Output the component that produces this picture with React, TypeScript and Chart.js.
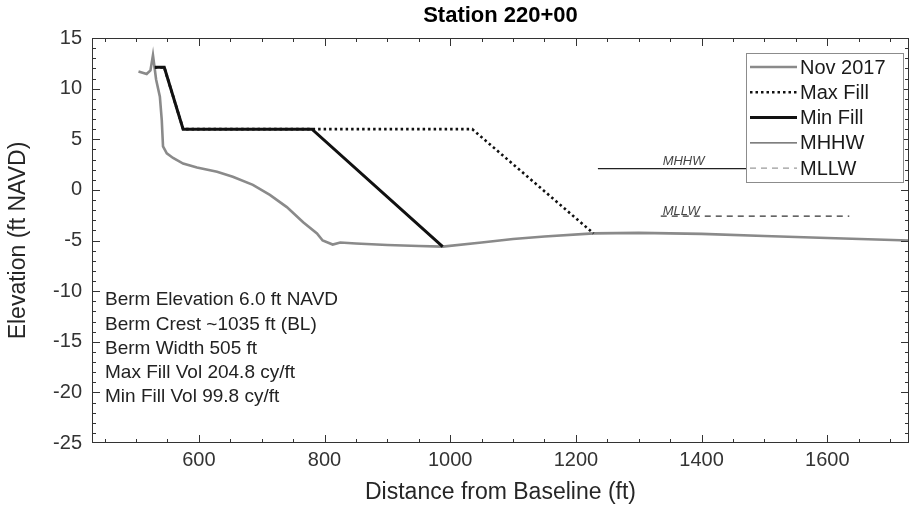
import React, { useEffect, useRef } from "react";
import { Chart, registerables } from "chart.js";

Chart.register(...registerables);

// ---- data ----
const titleText = "Station 220+00";
const xAxisTitle = "Distance from Baseline (ft)";
const yAxisTitle = "Elevation (ft NAVD)";
const seriesNames = ["Nov 2017", "Max Fill", "Min Fill", "MHHW", "MLLW"];

const novX = [504, 517, 523, 527, 532, 538, 541, 543, 549, 559, 575, 597, 629, 654, 686, 713, 740, 766, 788, 797, 813, 825, 850, 900, 950, 988, 1050, 1100, 1150, 1228, 1300, 1400, 1500, 1600, 1730];
const novY = [11.7, 11.45, 11.8, 13.3, 10.9, 9.2, 6.9, 4.3, 3.6, 3.15, 2.6, 2.2, 1.8, 1.3, 0.5, -0.5, -1.7, -3.2, -4.3, -5.0, -5.4, -5.2, -5.3, -5.45, -5.55, -5.6, -5.2, -4.85, -4.6, -4.3, -4.25, -4.35, -4.55, -4.75, -5.0];

const maxFillX = [530, 545, 575, 1035, 1228];
const maxFillY = [12.1, 12.1, 6.0, 6.0, -4.3];

const minFillX = [530, 545, 575, 780, 988];
const minFillY = [12.1, 12.1, 6.0, 6.0, -5.6];

const mhhwX = [1235, 1635];
const mhhwY = [2.1, 2.1];
const mllwX = [1335, 1635];
const mllwY = [-2.6, -2.6];
const tideLabelX = 1338;

const xTicks = [600, 800, 1000, 1200, 1400, 1600];
const yTicks = [-25, -20, -15, -10, -5, 0, 5, 10, 15];
const xLimits = [430, 1730];
const yLimits = [-25, 15];

const noteLines = [
  "Berm Elevation 6.0 ft NAVD",
  "Berm Crest ~1035 ft (BL)",
  "Berm Width 505 ft",
  "Max Fill Vol 204.8 cy/ft",
  "Min Fill Vol 99.8 cy/ft",
];

const FONT = "'Liberation Sans', Arial, Helvetica, sans-serif";
const AXIS_COLOR = "#333333";

const toPts = (xs: number[], ys: number[]) => xs.map((x, i) => ({ x, y: ys[i] }));

const styles = [
  { color: "#8a8a8a", width: 2.6, dash: [] as number[] },
  { color: "#111111", width: 2.6, dash: [2.5, 3] },
  { color: "#111111", width: 3, dash: [] as number[] },
  { color: "#222222", width: 1.4, dash: [] as number[] },
  { color: "#333333", width: 1.2, dash: [6, 5] },
];

const decorPlugin = {
  id: "decor",
  afterDraw(chart: any) {
    const ctx: CanvasRenderingContext2D = chart.ctx;
    const { left, right, top, bottom } = chart.chartArea;
    const xs = chart.scales.x;
    const ys = chart.scales.y;
    ctx.save();

    // inward ticks
    ctx.strokeStyle = AXIS_COLOR;
    ctx.lineWidth = 1;
    ctx.beginPath();
    for (let v = 450; v <= 1700; v += 50) {
      const px = Math.round(xs.getPixelForValue(v)) + 0.5;
      const len = xTicks.includes(v) ? 8 : 4;
      ctx.moveTo(px, bottom);
      ctx.lineTo(px, bottom - len);
      ctx.moveTo(px, top);
      ctx.lineTo(px, top + len);
    }
    for (let v = yLimits[0] + 1; v < yLimits[1]; v += 1) {
      const py = Math.round(ys.getPixelForValue(v)) + 0.5;
      const len = yTicks.includes(v) ? 8 : 4;
      ctx.moveTo(left, py);
      ctx.lineTo(left + len, py);
      ctx.moveTo(right, py);
      ctx.lineTo(right - len, py);
    }
    ctx.stroke();

    // box
    ctx.strokeRect(Math.round(left) + 0.5, Math.round(top) + 0.5, Math.round(right - left) - 1, Math.round(bottom - top) - 1);

    // tide labels
    ctx.fillStyle = "#444444";
    ctx.font = `italic 13px ${FONT}`;
    ctx.textAlign = "left";
    ctx.textBaseline = "alphabetic";
    const lx = xs.getPixelForValue(tideLabelX);
    ctx.fillText("MHHW", lx, ys.getPixelForValue(mhhwY[0]) - 4);
    ctx.fillText("MLLW", lx, ys.getPixelForValue(mllwY[0]) - 1);

    // notes
    ctx.fillStyle = "#222222";
    ctx.font = `19px ${FONT}`;
    ctx.textBaseline = "middle";
    noteLines.forEach((t, i) => {
      ctx.fillText(t, left + 13, 300 + i * 24.3);
    });

    // legend
    const bx = right - 163;
    const by = top + 15;
    const bw = 157;
    const bh = 129;
    ctx.fillStyle = "#ffffff";
    ctx.fillRect(bx, by, bw, bh);
    ctx.strokeStyle = "#8c8c8c";
    ctx.lineWidth = 1;
    ctx.strokeRect(bx + 0.5, by + 0.5, bw, bh);
    ctx.font = `20px ${FONT}`;
    seriesNames.forEach((name, i) => {
      const y = by + 14 + i * 25.3;
      const st = styles[i];
      ctx.strokeStyle = i === 4 ? "#9a9a9a" : i === 3 ? "#555555" : st.color;
      ctx.lineWidth = st.width;
      ctx.setLineDash(st.dash);
      ctx.beginPath();
      ctx.moveTo(bx + 4, y);
      ctx.lineTo(bx + 51, y);
      ctx.stroke();
      ctx.setLineDash([]);
      ctx.fillStyle = "#1a1a1a";
      ctx.fillText(name, bx + 54, y + 1);
    });

    // title
    ctx.fillStyle = "#000000";
    ctx.font = `bold 22px ${FONT}`;
    ctx.textAlign = "center";
    ctx.fillText(titleText, (left + right) / 2, 16);

    // axis titles
    ctx.fillStyle = "#262626";
    ctx.font = `23px ${FONT}`;
    ctx.fillText(xAxisTitle, (left + right) / 2, 493);
    ctx.translate(19, (top + bottom) / 2);
    ctx.rotate(-Math.PI / 2);
    ctx.fillText(yAxisTitle, 0, 0);
    ctx.restore();
  },
};

export default function App() {
  const ref = useRef<HTMLCanvasElement | null>(null);
  useEffect(() => {
    if (!ref.current) return;
    const data = [
      toPts(novX, novY),
      toPts(maxFillX, maxFillY),
      toPts(minFillX, minFillY),
      toPts(mhhwX, mhhwY),
      toPts(mllwX, mllwY),
    ];
    const orders = [3, 2, 1, 0, 0];
    const chart = new Chart(ref.current, {
      type: "scatter",
      data: {
        datasets: data.map((d, i) => ({
          label: seriesNames[i],
          data: d,
          showLine: true,
          borderColor: styles[i].color,
          borderWidth: styles[i].width,
          borderDash: styles[i].dash,
          pointRadius: 0,
          pointHoverRadius: 0,
          tension: 0,
          fill: false,
          order: orders[i],
          borderJoinStyle: "miter" as const,
        })),
      },
      options: {
        responsive: false,
        animation: false,
        devicePixelRatio: 1,
        layout: { padding: { top: 38, right: 12, left: 0, bottom: 0 } },
        plugins: {
          legend: { display: false },
          tooltip: { enabled: false },
          title: { display: false },
        },
        scales: {
          x: {
            type: "linear",
            min: xLimits[0],
            max: xLimits[1],
            grid: { display: false, drawTicks: false },
            border: { display: false },
            ticks: {
              color: AXIS_COLOR,
              font: { family: FONT, size: 20 },
              padding: 5,
              maxRotation: 0,
              autoSkip: false,
              callback: (v: any) => String(v),
            },
            afterBuildTicks: (scale: any) => {
              scale.ticks = xTicks.map((v) => ({ value: v }));
            },
            afterFit: (scale: any) => {
              scale.height = 64;
            },
          },
          y: {
            type: "linear",
            min: yLimits[0],
            max: yLimits[1],
            grid: { display: false, drawTicks: false },
            border: { display: false },
            ticks: {
              color: AXIS_COLOR,
              font: { family: FONT, size: 20 },
              padding: 10,
              autoSkip: false,
              callback: (v: any) => String(v),
            },
            afterBuildTicks: (scale: any) => {
              scale.ticks = yTicks.map((v) => ({ value: v }));
            },
            afterFit: (scale: any) => {
              scale.width = 92;
            },
          },
        },
      },
      plugins: [decorPlugin],
    });
    return () => chart.destroy();
  }, []);
  return (
    <div style={{ position: "fixed", left: 0, top: 0, width: 921, height: 507, background: "#fff" }}>
      <canvas ref={ref} width={921} height={507} style={{ width: 921, height: 507, display: "block" }} />
    </div>
  );
}
